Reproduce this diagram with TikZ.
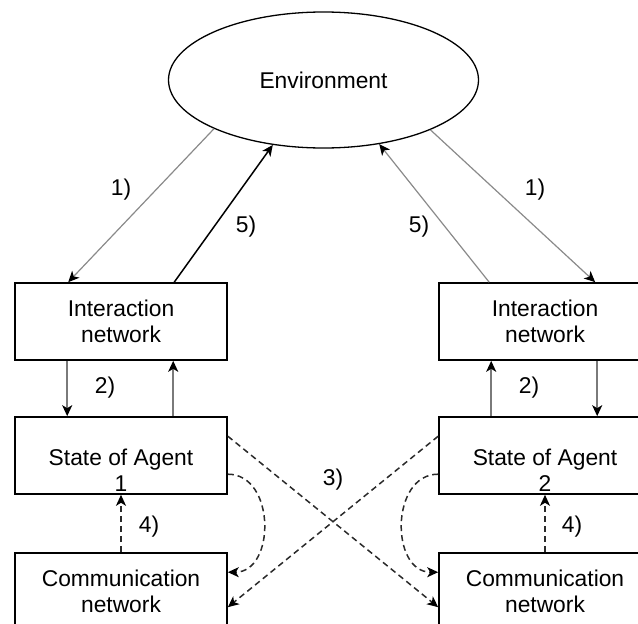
\documentclass[tikz,border=0pt]{standalone}
\usepackage{fontspec}
\setmainfont{Liberation Sans}
\usetikzlibrary{shapes.geometric,arrows.meta,calc}
\definecolor{lgray}{HTML}{8A8A8A}
\definecolor{mgray}{HTML}{7A7A7A}
\definecolor{dgray}{HTML}{2A2A2A}
\begin{document}
\begin{tikzpicture}[x=1pt,y=-1pt,
  every node/.style={font=\fontsize{22.8}{26}\selectfont},
  box/.style={draw, line width=1.6pt, minimum width=212pt, minimum height=77pt, inner sep=0pt, align=center},
  txt/.style={align=center, inner sep=0pt},
  tip/.style={-{Stealth[length=11pt,width=10pt,inset=3pt,color=black]}},
  thinarr/.style={tip, draw=lgray, line width=1.2pt},
  grayarr/.style={tip, draw=mgray, line width=1.8pt},
  blackarr/.style={tip, draw=black, line width=1.5pt},
  dasharr/.style={tip, draw=dgray, line width=1.5pt, dash pattern=on 6pt off 4pt},
]
\path[use as bounding box] (0,0) rectangle (638,624);
\clip (0,0) rectangle (638,624);

\node[draw, ellipse, line width=1.3pt, minimum width=310pt, minimum height=136pt, inner sep=0pt] (env) at (323.5,80) {Environment};

\node[box] (int1) at (121,321.5) {Interaction\\network};
\node[box] (int2) at (545,321.5) {Interaction\\network};
\node[box] (st1) at (121,455.5) {};
\node[box] (st2) at (545,455.5) {};
\node[txt] (st1t) at (121,470) {State of Agent\\1};
\node[txt] (st2t) at (545,470) {State of Agent\\2};
\node[box] (com1) at (121,591.5) {Communication\\network};
\node[box] (com2) at (545,591.5) {Communication\\network};

% 1) and 5)
\draw[thinarr] (env.204.6) -- ($(int1.north west)+(54,0)$);
\draw[blackarr] ($(int1.north west)+(160,0)$) -- (env.232);
\draw[thinarr] ($(int2.north west)+(51,0)$) -- (env.311.8);
\draw[thinarr] (env.335.4) -- ($(int2.north west)+(157,0)$);
\node[txt] (l1a) at (121,190) {1)};
\node[txt] (l5a) at (246,227) {5)};
\node[txt] (l5b) at (419,227) {5)};
\node[txt] (l1b) at (535,190) {1)};

% 2)
\draw[grayarr] ($(int1.south west)+(53,0)$) -- ($(st1.north west)+(53,0)$);
\draw[grayarr] ($(st1.north west)+(159,0)$) -- ($(int1.south west)+(159,0)$);
\draw[grayarr] ($(st2.north west)+(53,0)$) -- ($(int2.south west)+(53,0)$);
\draw[grayarr] ($(int2.south west)+(159,0)$) -- ($(st2.north west)+(159,0)$);
\node[txt] (l2a) at (105,388) {2)};
\node[txt] (l2b) at (529,388) {2)};

% 4)
\draw[dasharr] (com1.north) -- (st1.south);
\draw[dasharr] (com2.north) -- (st2.south);
\node[txt] (l4a) at (149,527) {4)};
\node[txt] (l4b) at (572,527) {4)};

% 3)
\coordinate (a1) at ($(st1.north east)+(0,20)$);
\coordinate (a2) at ($(st2.north west)+(0,20)$);
\coordinate (b1) at ($(com1.north east)+(0,55)$);
\coordinate (b2) at ($(com2.north west)+(0,55)$);
\draw[dasharr] (a1) -- (b2);
\draw[dasharr] (a2) -- (b1);
\coordinate (c1) at ($(st1.north east)+(0,58)$);
\coordinate (d1) at ($(com1.north east)+(0,20)$);
\coordinate (c2) at ($(st2.north west)+(0,58)$);
\coordinate (d2) at ($(com2.north west)+(0,20)$);
\draw[dasharr] (c1) .. controls ($(c1)+(48,0)$) and ($(d1)+(48,0)$) .. (d1);
\draw[dasharr] (c2) .. controls ($(c2)+(-48,0)$) and ($(d2)+(-48,0)$) .. (d2);
\node[txt] (l3) at (333,480) {3)};
\end{tikzpicture}
\end{document}
